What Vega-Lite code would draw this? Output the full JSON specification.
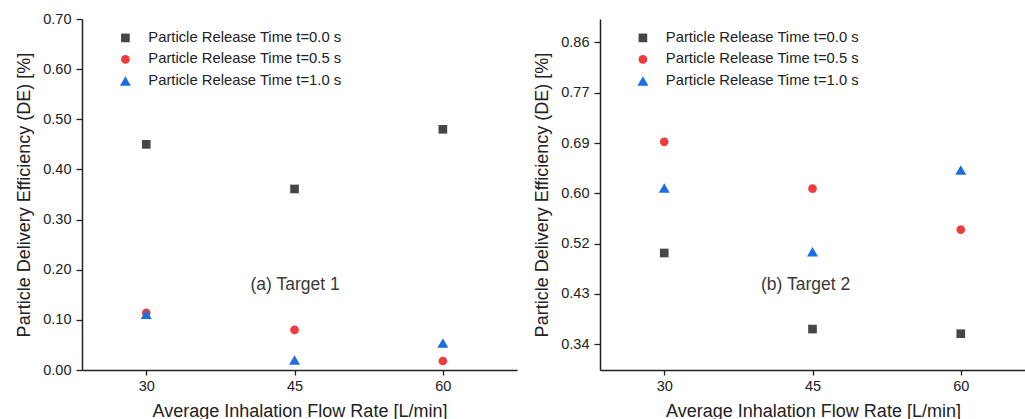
{
  "$schema": "https://vega.github.io/schema/vega-lite/v6.json",
  "padding": {"left": 15, "top": 11, "right": 0, "bottom": 0},
  "background": "white",
  "config": {
    "font": "Liberation Sans",
    "view": {"stroke": null},
    "axis": {
      "grid": false,
      "domainColor": "#222222",
      "domainWidth": 1.5,
      "tickColor": "#222222",
      "tickWidth": 1.3,
      "labelFont": "Liberation Sans",
      "labelFontSize": 14.5,
      "labelColor": "#222222",
      "titleFont": "Liberation Sans",
      "titleFontSize": 18,
      "titleFontWeight": "normal",
      "titleColor": "#222222"
    },
    "legend": {
      "labelFont": "Liberation Sans",
      "labelFontSize": 14.8,
      "labelColor": "#222222",
      "labelLimit": 0,
      "padding": 0,
      "rowPadding": 5.5,
      "labelOffset": 15.5,
      "symbolStrokeWidth": 0
    }
  },
  "datasets": {
    "a": [
      {"flow": 30, "de": 0.450, "series": "Particle Release Time t=0.0 s"},
      {"flow": 45, "de": 0.361, "series": "Particle Release Time t=0.0 s"},
      {"flow": 60, "de": 0.480, "series": "Particle Release Time t=0.0 s"},
      {"flow": 30, "de": 0.114, "series": "Particle Release Time t=0.5 s"},
      {"flow": 45, "de": 0.080, "series": "Particle Release Time t=0.5 s"},
      {"flow": 60, "de": 0.018, "series": "Particle Release Time t=0.5 s"},
      {"flow": 30, "de": 0.111, "series": "Particle Release Time t=1.0 s"},
      {"flow": 45, "de": 0.020, "series": "Particle Release Time t=1.0 s"},
      {"flow": 60, "de": 0.054, "series": "Particle Release Time t=1.0 s"}
    ],
    "b": [
      {"flow": 30, "de": 0.500, "series": "Particle Release Time t=0.0 s"},
      {"flow": 45, "de": 0.370, "series": "Particle Release Time t=0.0 s"},
      {"flow": 60, "de": 0.362, "series": "Particle Release Time t=0.0 s"},
      {"flow": 30, "de": 0.690, "series": "Particle Release Time t=0.5 s"},
      {"flow": 45, "de": 0.610, "series": "Particle Release Time t=0.5 s"},
      {"flow": 60, "de": 0.540, "series": "Particle Release Time t=0.5 s"},
      {"flow": 30, "de": 0.611, "series": "Particle Release Time t=1.0 s"},
      {"flow": 45, "de": 0.502, "series": "Particle Release Time t=1.0 s"},
      {"flow": 60, "de": 0.642, "series": "Particle Release Time t=1.0 s"}
    ],
    "la": [{"flow": 45.05, "de": 0.170, "label": "(a) Target 1"}],
    "lb": [{"flow": 44.3, "de": 0.446, "label": "(b) Target 2"}]
  },
  "spacing": 16,
  "resolve": {
    "scale": {"color": "independent", "shape": "independent", "size": "independent"},
    "legend": {"color": "independent", "shape": "independent", "size": "independent"}
  },
  "hconcat": [
    {
      "width": 435,
      "height": 351,
      "layer": [
        {
          "data": {"name": "a"},
          "mark": {"type": "point", "filled": true, "opacity": 1},
          "encoding": {
            "x": {
              "field": "flow", "type": "quantitative",
              "scale": {"domain": [23.5, 67.5], "nice": false, "zero": false},
              "axis": {"values": [30, 45, 60], "title": "Average Inhalation Flow Rate [L/min]", "tickSize": 5, "labelPadding": 4, "titlePadding": 10}
            },
            "y": {
              "field": "de", "type": "quantitative",
              "scale": {"domain": [0, 0.7], "nice": false},
              "axis": {"values": [0, 0.1, 0.2, 0.3, 0.4, 0.5, 0.6, 0.7], "format": ".2f", "title": "Particle Delivery Efficiency (DE) [%]", "tickSize": 6, "labelPadding": 5, "titlePadding": 9}
            },
            "color": {
              "field": "series", "type": "nominal",
              "scale": {"domain": ["Particle Release Time t=0.0 s", "Particle Release Time t=0.5 s", "Particle Release Time t=1.0 s"], "range": ["#464646", "#f03c3c", "#1d6ee3"]},
              "legend": {"title": null, "orient": "none", "legendX": 36, "legendY": 11.5}
            },
            "shape": {
              "field": "series", "type": "nominal",
              "scale": {"domain": ["Particle Release Time t=0.0 s", "Particle Release Time t=0.5 s", "Particle Release Time t=1.0 s"], "range": ["square", "circle", "triangle-up"]},
              "legend": {"title": null, "orient": "none", "legendX": 36, "legendY": 11.5}
            },
            "size": {
              "field": "series", "type": "nominal",
              "scale": {"type": "ordinal", "domain": ["Particle Release Time t=0.0 s", "Particle Release Time t=0.5 s", "Particle Release Time t=1.0 s"], "range": [75, 75, 120]},
              "legend": {"title": null, "orient": "none", "legendX": 36, "legendY": 11.5}
            }
          }
        },
        {
          "data": {"name": "la"},
          "mark": {"type": "text", "fontSize": 17.5, "color": "#3a3a3a", "align": "center", "baseline": "middle"},
          "encoding": {
            "x": {"field": "flow", "type": "quantitative"},
            "y": {"field": "de", "type": "quantitative"},
            "text": {"field": "label"}
          }
        }
      ]
    },
    {
      "width": 426,
      "height": 351,
      "layer": [
        {
          "data": {"name": "b"},
          "mark": {"type": "point", "filled": true, "opacity": 1},
          "encoding": {
            "x": {
              "field": "flow", "type": "quantitative",
              "scale": {"domain": [23.5, 66.6], "nice": false, "zero": false},
              "axis": {"values": [30, 45, 60], "title": "Average Inhalation Flow Rate [L/min]", "tickSize": 5, "labelPadding": 4, "titlePadding": 10}
            },
            "y": {
              "field": "de", "type": "quantitative",
              "scale": {"domain": [0.3, 0.9], "nice": false, "zero": false},
              "axis": {"values": [0.344, 0.43, 0.516, 0.602, 0.688, 0.774, 0.86], "format": ".2f", "title": "Particle Delivery Efficiency (DE) [%]", "tickSize": 6, "labelPadding": 5, "titlePadding": 9}
            },
            "color": {
              "field": "series", "type": "nominal",
              "scale": {"domain": ["Particle Release Time t=0.0 s", "Particle Release Time t=0.5 s", "Particle Release Time t=1.0 s"], "range": ["#464646", "#f03c3c", "#1d6ee3"]},
              "legend": {"title": null, "orient": "none", "legendX": 35.5, "legendY": 11.5}
            },
            "shape": {
              "field": "series", "type": "nominal",
              "scale": {"domain": ["Particle Release Time t=0.0 s", "Particle Release Time t=0.5 s", "Particle Release Time t=1.0 s"], "range": ["square", "circle", "triangle-up"]},
              "legend": {"title": null, "orient": "none", "legendX": 35.5, "legendY": 11.5}
            },
            "size": {
              "field": "series", "type": "nominal",
              "scale": {"type": "ordinal", "domain": ["Particle Release Time t=0.0 s", "Particle Release Time t=0.5 s", "Particle Release Time t=1.0 s"], "range": [75, 75, 120]},
              "legend": {"title": null, "orient": "none", "legendX": 35.5, "legendY": 11.5}
            }
          }
        },
        {
          "data": {"name": "lb"},
          "mark": {"type": "text", "fontSize": 17.5, "color": "#3a3a3a", "align": "center", "baseline": "middle"},
          "encoding": {
            "x": {"field": "flow", "type": "quantitative"},
            "y": {"field": "de", "type": "quantitative"},
            "text": {"field": "label"}
          }
        }
      ]
    }
  ]
}
